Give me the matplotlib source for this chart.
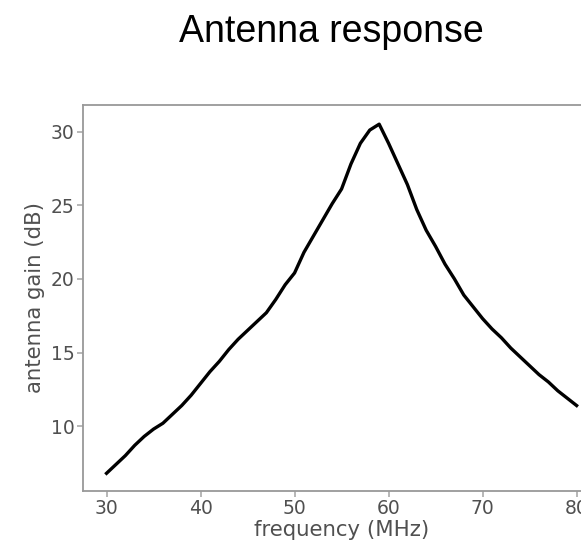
import matplotlib
matplotlib.use("Agg")
import matplotlib.pyplot as plt

# -----------------------------
# Data
# -----------------------------
freq = list(range(30, 81))
gain = [
    6.8, 7.4, 8.0, 8.7, 9.3, 9.8, 10.2, 10.8, 11.4, 12.1,
    12.9, 13.7, 14.4, 15.2, 15.9, 16.5, 17.1, 17.7, 18.6, 19.6,
    20.4, 21.8, 22.9, 24.0, 25.1, 26.1, 27.8, 29.2, 30.1, 30.5,
    29.2, 27.8, 26.4, 24.7, 23.3, 22.2, 21.0, 20.0, 18.9, 18.1,
    17.3, 16.6, 16.0, 15.3, 14.7, 14.1, 13.5, 13.0, 12.4, 11.9,
    11.4,
]
xticks = [30, 40, 50, 60, 70, 80]
yticks = [10, 15, 20, 25, 30]

grey = "#505050"

fig = plt.figure(figsize=(5.81, 5.43), dpi=100)
# right edge of the axes runs past the figure, as in the cropped reference
ax = fig.add_axes([0.1429, 0.0958, 0.89, 0.7108])

ax.plot(freq, gain, color="black", linewidth=2.4)
ax.set_xlim(27.5, 82.5)
ax.set_ylim(5.6, 31.8)
ax.set_xticks(xticks)
ax.set_yticks(yticks)

ax.set_xlabel("frequency (MHz)", fontsize=15.3, color=grey, labelpad=1)
ax.set_ylabel("antenna gain (dB)", fontsize=15.3, color=grey, labelpad=4)
ax.tick_params(labelsize=13.5, labelcolor=grey, color="#aaaaaa",
               length=4, width=1.2, pad=2)
for s in ax.spines.values():
    s.set_color("#999999")
    s.set_linewidth(1.3)

fig.text(0.571, 1 - 42 / 543, "Antenna response", ha="center", va="baseline",
         fontsize=27, family="Liberation Sans", color="black")

fig.savefig("out.png", dpi=100)
